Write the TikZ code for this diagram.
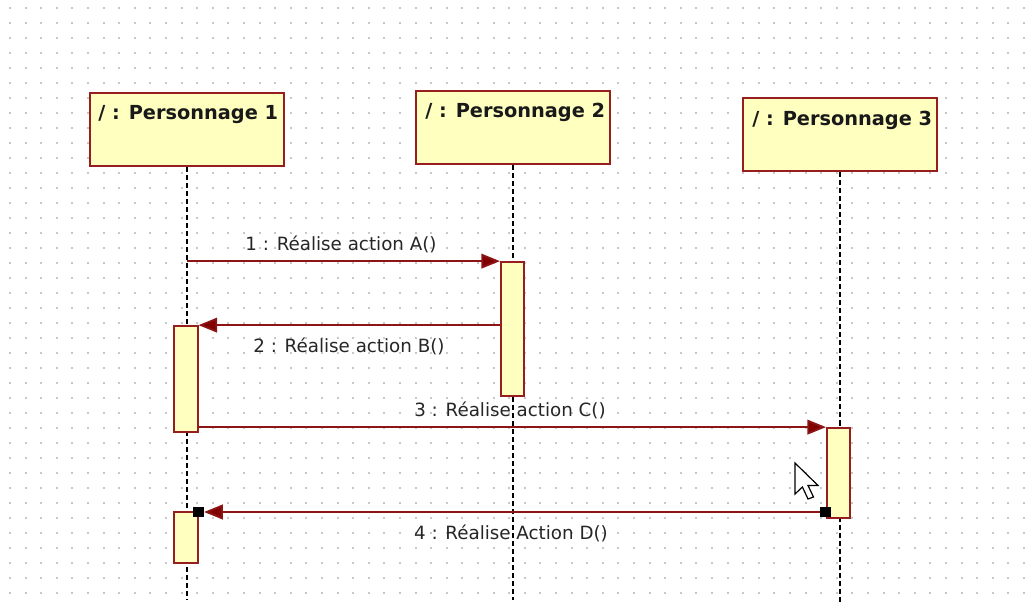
\documentclass[tikz,border=0pt]{standalone}
\usepackage{fontspec}
\setmainfont{DejaVu Sans}
\usetikzlibrary{arrows.meta,calc}
\definecolor{boxfill}{RGB}{255,255,192}
\definecolor{boxline}{RGB}{150,30,30}
\definecolor{msgline}{RGB}{140,20,20}
\definecolor{headred}{RGB}{128,0,0}
\definecolor{dotc}{RGB}{200,200,200}
\begin{document}
\begin{tikzpicture}[x=0.75pt,y=-0.75pt,
 headbox/.style={draw=boxline, fill=boxfill, line width=1.5pt, minimum width=145.5pt, minimum height=54.75pt, inner sep=0pt},
 actbox/.style={draw=boxline, fill=boxfill, line width=1.3pt, minimum width=17.5pt, inner sep=0pt},
 headtxt/.style={font=\fontsize{14.5}{17}\selectfont\bfseries, anchor=base west, inner sep=0pt, text=black!90},
 msgtxt/.style={font=\fontsize{13.7}{16}\selectfont, anchor=base, inner sep=0pt, text=black!85},
 lifeline/.style={draw=black, line width=1.3pt, dash pattern=on 3.75pt off 2.25pt},
 msg/.style={draw=msgline, line width=1.4pt, -{Triangle[length=14pt,width=11pt,fill=headred]}},
 endsq/.style={fill=black, draw=none, minimum size=8pt, inner sep=0pt}]
\useasboundingbox (0,0) rectangle (1027,605);
\fill[white] (0,0) rectangle (1027,605);
\foreach \i in {0,...,65}{\foreach \j in {0,...,39}{\fill[dotc] (9+15.6*\i,7.3+15*\j) rectangle ++(2,2);}}

% header boxes
\node[headbox] (p1) at (187,129.5) {};
\node[headbox] (p2) at (513,127.5) {};
\node[headbox] (p3) at (840,135) {};
\node[headtxt] (p1t) at (98,120) {/ : Personnage 1};
\node[headtxt] (p2t) at (425,118) {/ : Personnage 2};
\node[headtxt] (p3t) at (752,126) {/ : Personnage 3};

% lifelines
\coordinate (l1) at (187,600);
\coordinate (l2) at (513,600);
\coordinate (l3) at (840,605);
\draw[lifeline] (p1.south) -- (l1);
\draw[lifeline] (p2.south) -- (l2);
\draw[lifeline] (p3.south) -- (l3);

% activation boxes
\node[actbox, minimum height=100.5pt] (a2) at (512.5,329) {};
\node[actbox, minimum height=79.5pt] (a1a) at (186,379) {};
\node[actbox, minimum height=67.5pt] (a3) at (838.5,473) {};
\node[actbox, minimum height=38.25pt] (a1b) at (186,537.5) {};

% messages
\draw[msg] (a2.north west -| p1.south) -- (a2.north west);
\node[msgtxt] (m1) at (341,251) {1 : Réalise action A()};

\coordinate (m2s) at (a2.west |- a1a.north east);
\draw[msg] (m2s) -- (a1a.north east);
\node[msgtxt] (m2) at (349,353) {2 : Réalise action B()};

\draw[msg] (a1a.east |- a3.north west) -- (a3.north west);
\node[msgtxt] (m3) at (510,416.5) {3 : Réalise action C()};

\node[endsq] (s3) at (825.5,512) {};
\node[endsq] (s1) at (198.5,512) {};
\draw[msg] (s3.center) -- (s1.east);
\node[endsq] at (825.5,512) {};
\node[endsq] at (198.5,512) {};
\node[msgtxt] (m4) at (511,539.5) {4 : Réalise Action D()};

% mouse cursor
\begin{scope}[shift={(795,463)}]
\filldraw[fill=white, draw=black, line width=0.9pt, line join=miter]
 (0,0) -- (0,31) -- (7.4,24) -- (13,36) -- (18.5,34) -- (13,22.5) -- (23,22.5) -- cycle;
\end{scope}
\end{tikzpicture}
\end{document}
